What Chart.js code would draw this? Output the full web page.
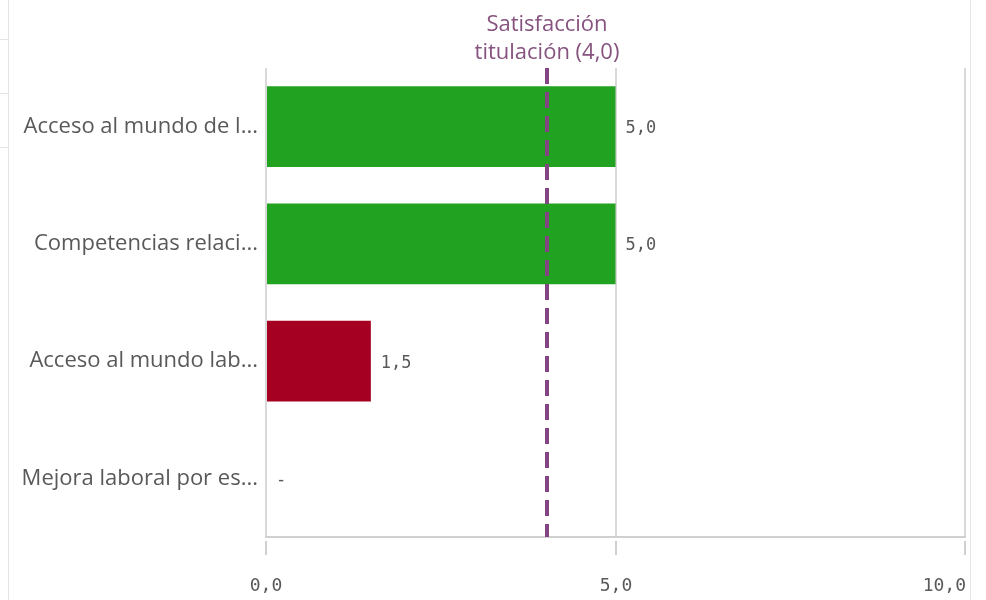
<!DOCTYPE html>
<html>
<head>
<meta charset="utf-8">
<script src="https://cdn.jsdelivr.net/npm/chart.js@4"></script>
<style>
    html, body { margin: 0; padding: 0; background: #fff; }
    #wrap { position: relative; width: 986px; height: 600px; }
    .edge { position: absolute; background: #e4e4e4; }
</style>
</head>
<body>
<div id="wrap">
    <div class="edge" style="left:8px;top:0;width:1px;height:600px"></div>
    <div class="edge" style="left:0;top:39px;width:8px;height:1px"></div>
    <div class="edge" style="left:0;top:93px;width:8px;height:1px"></div>
    <div class="edge" style="left:0;top:147px;width:8px;height:1px"></div>
    <div class="edge" style="left:970px;top:0;width:1px;height:600px"></div>
    <canvas id="chart" width="986" height="600"></canvas>
</div>
<script>
// datos del gráfico
const categories = [
    "Acceso al mundo de l...",
    "Competencias relaci...",
    "Acceso al mundo lab...",
    "Mejora laboral por es..."
];
const values = [5.0, 5.0, 1.5, null];
const xTicks = [0, 5, 10];
const refValue = 4.0;
const refLabel = ["Satisfacción", "titulación (4,0)"];

const GREEN = "#21a221";
const RED = "#a50022";
const PURPLE = "#844682";
const TEXT = "#595959";

/** Formato con coma decimal */
function fmt(v) {
    return v.toFixed(1).replace(".", ",");
}

/** Línea de referencia, etiquetas de valor y eje X */
const overlay = {
    id: "overlay",
    afterDatasetsDraw(chart) {
        const { ctx, chartArea, scales } = chart;
        const x = scales.x;

        // etiquetas de valor
        ctx.save();
        ctx.font = "17px 'DejaVu Sans Mono'";
        ctx.fillStyle = TEXT;
        ctx.textBaseline = "middle";
        ctx.textAlign = "left";
        const meta = chart.getDatasetMeta(0);
        meta.data.forEach((bar, i) => {
            const y = scales.y.getPixelForValue(i);
            if (values[i] == null) {
                ctx.fillText("-", x.getPixelForValue(0) + 10, y + 2);
            } else {
                ctx.fillText(fmt(values[i]), bar.x + 10, y + 2);
            }
        });

        // línea de referencia
        const rx = Math.round(x.getPixelForValue(refValue)) + 1;
        ctx.strokeStyle = PURPLE;
        ctx.lineWidth = 4;
        ctx.setLineDash([16, 8]);
        ctx.beginPath();
        ctx.moveTo(rx, chartArea.top);
        ctx.lineTo(rx, chartArea.bottom);
        ctx.stroke();
        ctx.setLineDash([]);

        ctx.font = "22px 'Open Sans'";
        ctx.fillStyle = "#86527f";
        ctx.textAlign = "center";
        ctx.textBaseline = "alphabetic";
        ctx.fillText(refLabel[0], rx, 31);
        ctx.fillText(refLabel[1], rx, 59);

        // marcas y etiquetas del eje X
        ctx.strokeStyle = "#d0d0d0";
        ctx.lineWidth = 2;
        ctx.font = "18px 'DejaVu Sans Mono'";
        ctx.fillStyle = TEXT;
        ctx.textBaseline = "middle";
        xTicks.forEach((t, i) => {
            const px = Math.round(x.getPixelForValue(t));
            ctx.beginPath();
            ctx.moveTo(px, chartArea.bottom + 4);
            ctx.lineTo(px, chartArea.bottom + 18);
            ctx.stroke();
            ctx.textAlign = i === xTicks.length - 1 ? "right" : "center";
            ctx.fillText(fmt(t), i === xTicks.length - 1 ? px + 1 : px, 586);
        });
        ctx.restore();
    }
};

new Chart(document.getElementById("chart"), {
    type: "bar",
    data: {
        labels: categories,
        datasets: [{
            data: values,
            backgroundColor: values.map(v => (v != null && v >= refValue ? GREEN : RED)),
            borderWidth: 0,
            categoryPercentage: 1,
            barPercentage: 0.69
        }]
    },
    options: {
        responsive: false,
        animation: false,
        indexAxis: "y",
        layout: { padding: { top: 68, right: 21, left: 0, bottom: 0 } },
        plugins: { legend: { display: false }, tooltip: { enabled: false } },
        scales: {
            x: {
                min: 0,
                max: 10,
                ticks: { display: false, stepSize: 5 },
                grid: { color: "#d9d9d9", lineWidth: 2, drawTicks: false },
                border: { color: "#d0d0d0", width: 2 },
                afterFit(scale) { scale.height = 63; }
            },
            y: {
                ticks: {
                    color: TEXT,
                    padding: 8,
                    font: { family: "'Open Sans'", size: 22 }
                },
                grid: { display: false, drawTicks: false },
                border: { display: false },
                afterFit(scale) { scale.width = 266; }
            }
        }
    },
    plugins: [overlay]
});
</script>
</body>
</html>
